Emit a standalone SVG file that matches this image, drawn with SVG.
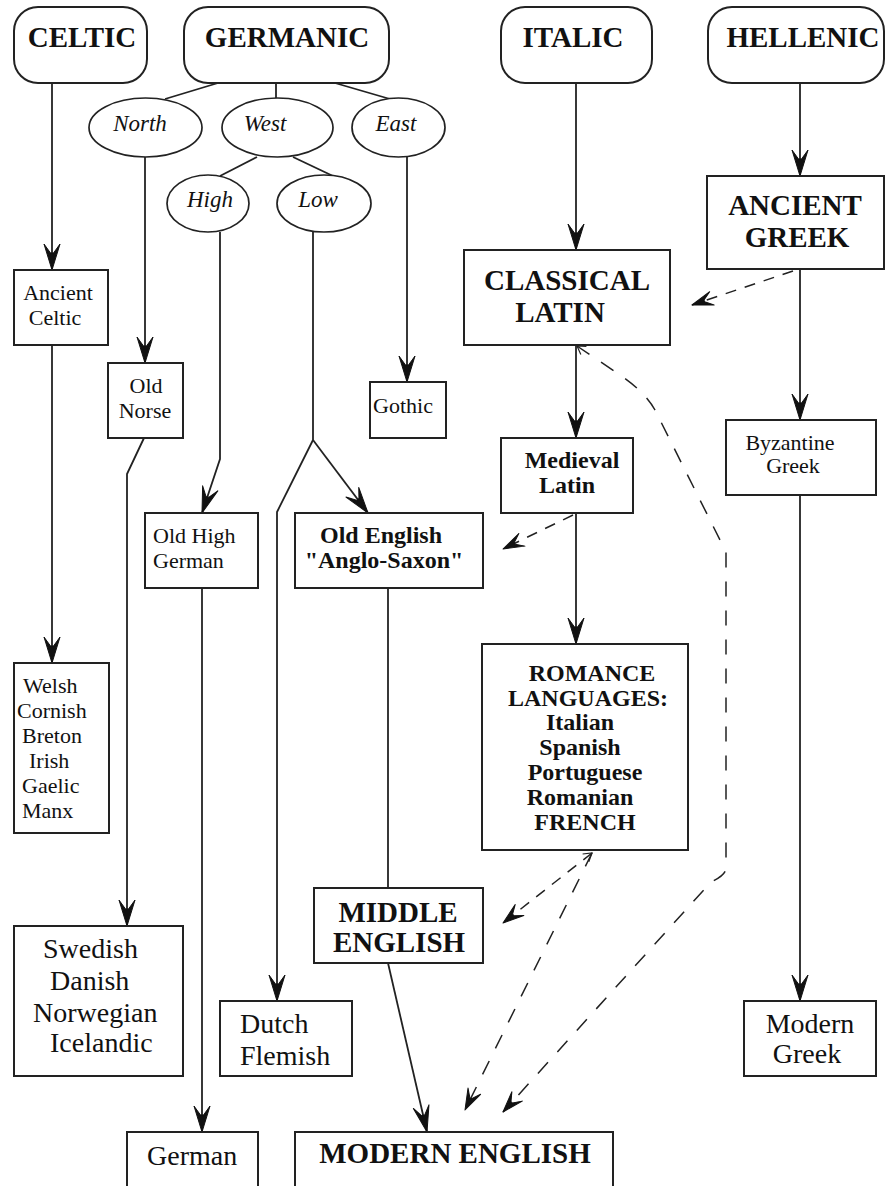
<svg xmlns="http://www.w3.org/2000/svg" width="885" height="1186" viewBox="0 0 885 1186">
<defs>
<style>
.bg{fill:#fff}
.box{fill:#fff;stroke:#222;stroke-width:2}
.ell{fill:#fff;stroke:#222;stroke-width:1.7}
.ln{fill:none;stroke:#222;stroke-width:1.8}
.dl{fill:none;stroke:#222;stroke-width:1.5;stroke-dasharray:15 14}
.ds{fill:none;stroke:#222;stroke-width:1.5;stroke-dasharray:11 9}
text{font-family:"Liberation Serif","Times New Roman",serif;fill:#111}
.big{font-size:29px;font-weight:bold;text-anchor:middle}
.mb{font-size:24px;font-weight:bold;text-anchor:middle}
.mr{font-size:22px}
.mrc{font-size:22px;text-anchor:middle}
.lr{font-size:28px}
.lrc{font-size:28px;text-anchor:middle}
.it{font-size:23px;font-style:italic;text-anchor:middle}
</style>
<marker id="arr" viewBox="-28 -10 30 20" refX="0" refY="0" markerWidth="30" markerHeight="20" orient="auto" markerUnits="userSpaceOnUse">
<path d="M0,0 L-26,-8 L-17,-1.5 L-17,1.5 L-26,8 Z" fill="#111" stroke="#111" stroke-width="1" stroke-linejoin="round"/>
</marker>
<marker id="arrs" viewBox="-24 -9 25 18" refX="0" refY="0" markerWidth="25" markerHeight="18" orient="auto" markerUnits="userSpaceOnUse">
<path d="M0,0 L-21,-7 L-13,-1 L-13,1 L-21,7 Z" fill="#111" stroke="#111" stroke-width="1" stroke-linejoin="round"/>
</marker>
<marker id="tail" viewBox="-9 -6 10 12" refX="0" refY="0" markerWidth="10" markerHeight="12" orient="auto-start-reverse" markerUnits="userSpaceOnUse">
<path d="M-8,-5 L0,0 L-8,5" fill="none" stroke="#222" stroke-width="1.2"/>
</marker>
</defs>
<rect class="bg" x="0" y="0" width="885" height="1186"/>

<g id="connectors">
<path class="ln" d="M52,83 V270" marker-end="url(#arr)"/>
<path class="ln" d="M52,345 V663" marker-end="url(#arr)"/>
<path class="ln" d="M218,83 L165,99"/>
<path class="ln" d="M276,83 V98"/>
<path class="ln" d="M335,83 L390,99"/>
<path class="ln" d="M145,157 V363" marker-end="url(#arr)"/>
<path class="ln" d="M144,438 L127,474 V926" marker-end="url(#arr)"/>
<path class="ln" d="M257,157 L220,176"/>
<path class="ln" d="M293,157 L333,176"/>
<path class="ln" d="M220,232 V459 L202,513" marker-end="url(#arr)"/>
<path class="ln" d="M202,588 V1132" marker-end="url(#arr)"/>
<path class="ln" d="M313,232 V440 L277,512 V1001" marker-end="url(#arr)"/>
<path class="ln" d="M313,440 L368,513" marker-end="url(#arr)"/>
<path class="ln" d="M407,157 V382" marker-end="url(#arr)"/>
<path class="ln" d="M388,588 V888"/>
<path class="ln" d="M388,963 L427,1132" marker-end="url(#arr)"/>
<path class="ln" d="M576,83 V250" marker-end="url(#arr)"/>
<path class="ln" d="M576,345 V438" marker-end="url(#arr)"/>
<path class="ln" d="M576,513 V644" marker-end="url(#arr)"/>
<path class="ln" d="M800,83 V176" marker-end="url(#arr)"/>
<path class="ln" d="M800,269 V420" marker-end="url(#arr)"/>
<path class="ln" d="M800,495 V1001" marker-end="url(#arr)"/>
<path class="ds" d="M793,271 L692,305" marker-end="url(#arrs)"/>
<path class="ds" d="M573,515 L503,549" marker-end="url(#arrs)"/>
<path class="ds" d="M592,853 L503,923" marker-start="url(#tail)" marker-end="url(#arrs)"/>
<path class="dl" d="M592,853 L465,1110" marker-end="url(#arrs)"/>
<path class="dl" d="M577,346 L620,375 Q645,392 655,410 L726,552 V868 Q726,875 711,882 L503,1112" marker-start="url(#tail)" marker-end="url(#arrs)"/>
</g>

<g id="celtic"><rect class="box" x="14" y="7" width="133" height="76" rx="24"/><text class="big" x="82" y="47">CELTIC</text></g>
<g id="germanic"><rect class="box" x="184" y="7" width="205" height="76" rx="24"/><text class="big" x="287" y="47">GERMANIC</text></g>
<g id="italic"><rect class="box" x="501" y="7" width="151" height="76" rx="24"/><text class="big" x="573" y="47">ITALIC</text></g>
<g id="hellenic"><rect class="box" x="708" y="7" width="176" height="76" rx="24"/><text class="big" x="803" y="47">HELLENIC</text></g>

<g id="north"><ellipse class="ell" cx="145.5" cy="127.5" rx="56.5" ry="29.5"/><text class="it" x="140" y="131">North</text></g>
<g id="west"><ellipse class="ell" cx="277.5" cy="127.5" rx="55.5" ry="29.5"/><text class="it" x="265" y="131">West</text></g>
<g id="east"><ellipse class="ell" cx="398.5" cy="127.5" rx="46.5" ry="29.5"/><text class="it" x="396" y="131">East</text></g>
<g id="high"><ellipse class="ell" cx="208" cy="203.5" rx="41" ry="28.5"/><text class="it" x="210" y="207">High</text></g>
<g id="low"><ellipse class="ell" cx="324" cy="203.5" rx="47" ry="28.5"/><text class="it" x="318" y="207">Low</text></g>

<g id="ancient-celtic"><rect class="box" x="14" y="270" width="94" height="75"/><text class="mrc" x="58" y="300">Ancient</text><text class="mrc" x="55" y="325">Celtic</text></g>
<g id="old-norse"><rect class="box" x="108" y="363" width="75" height="75"/><text class="mrc" x="146" y="393">Old</text><text class="mrc" x="145" y="418">Norse</text></g>
<g id="gothic"><rect class="box" x="370" y="382" width="76" height="56"/><text class="mrc" x="403" y="413">Gothic</text></g>
<g id="old-high-german"><rect class="box" x="145" y="513" width="113" height="75"/><text class="mr" x="153" y="543">Old High</text><text class="mr" x="153" y="568">German</text></g>
<g id="old-english"><rect class="box" x="295" y="513" width="188" height="75"/><text class="mb" x="381" y="543">Old English</text><text class="mb" x="384" y="568">"Anglo-Saxon"</text></g>

<g id="classical-latin"><rect class="box" x="464" y="250" width="206" height="95"/><text class="big" x="567" y="290">CLASSICAL</text><text class="big" x="560" y="322">LATIN</text></g>
<g id="ancient-greek"><rect class="box" x="707" y="176" width="177" height="93"/><text class="big" x="795" y="215">ANCIENT</text><text class="big" x="797" y="247">GREEK</text></g>
<g id="medieval-latin"><rect class="box" x="501" y="438" width="132" height="75"/><text class="mb" x="572" y="468">Medieval</text><text class="mb" x="567" y="493">Latin</text></g>
<g id="byzantine-greek"><rect class="box" x="726" y="420" width="150" height="75"/><text class="mrc" x="790" y="450">Byzantine</text><text class="mrc" x="793" y="473">Greek</text></g>
<g id="romance"><rect class="box" x="482" y="644" width="206" height="206"/>
<text class="mb" x="592" y="681">ROMANCE</text><text class="mb" x="588" y="706">LANGUAGES:</text><text class="mb" x="580" y="730">Italian</text><text class="mb" x="580" y="755">Spanish</text><text class="mb" x="585" y="780">Portuguese</text><text class="mb" x="580" y="805">Romanian</text><text class="mb" x="585" y="830">FRENCH</text></g>

<g id="celtic-modern"><rect class="box" x="14" y="663" width="95" height="170"/>
<text class="mr" x="23" y="693">Welsh</text><text class="mr" x="17" y="718">Cornish</text><text class="mr" x="22" y="743">Breton</text><text class="mr" x="29" y="768">Irish</text><text class="mr" x="22" y="793">Gaelic</text><text class="mr" x="22" y="818">Manx</text></g>
<g id="scandinavian"><rect class="box" x="14" y="926" width="169" height="150"/>
<text class="lr" x="43" y="958">Swedish</text><text class="lr" x="50" y="990">Danish</text><text class="lr" x="33" y="1022">Norwegian</text><text class="lr" x="50" y="1052">Icelandic</text></g>
<g id="dutch-flemish"><rect class="box" x="220" y="1001" width="132" height="75"/><text class="lr" x="240" y="1033">Dutch</text><text class="lr" x="240" y="1065">Flemish</text></g>
<g id="german"><rect class="box" x="127" y="1132" width="131" height="70"/><text class="lr" x="147" y="1165">German</text></g>
<g id="middle-english"><rect class="box" x="314" y="888" width="169" height="75"/><text class="big" x="398" y="922">MIDDLE</text><text class="big" x="399" y="952">ENGLISH</text></g>
<g id="modern-english"><rect class="box" x="295" y="1132" width="318" height="70"/><text class="big" x="455" y="1163">MODERN ENGLISH</text></g>
<g id="modern-greek"><rect class="box" x="744" y="1001" width="132" height="75"/><text class="lrc" x="810" y="1033">Modern</text><text class="lrc" x="807" y="1063">Greek</text></g>
</svg>
